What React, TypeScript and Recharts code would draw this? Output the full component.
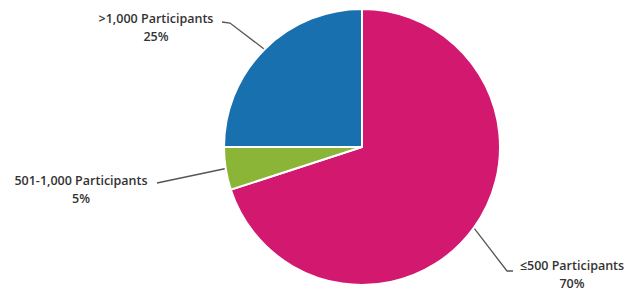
import React from "react";
import { PieChart, Pie, Cell } from "recharts";

const categories = ["≤500 Participants", "501-1,000 Participants", ">1,000 Participants"];
const shares = [70, 5, 25];
const percentLabels = ["70%", "5%", "25%"];
const colors = ["#D3186F", "#8BB537", "#1870AE"];

const data = categories.map((name, i) => ({ name, value: shares[i] }));

// label layout offsets relative to pie center
const LABEL_LAYOUT = [
  { pts: [[145, 124], [151, 124]], tx: 210, y1: 123, y2: 141 },
  { pts: [[-205, 36]], tx: -281, y1: 38, y2: 56 },
  { pts: [[-132, -124], [-140, -125]], tx: -206, y1: -124, y2: -106 },
];

const RADIAN = Math.PI / 180;

const renderLabel = (props: any) => {
  const { cx, cy, midAngle, outerRadius, index } = props;
  const lay = LABEL_LAYOUT[index];
  const sx = cx + (outerRadius + 1) * Math.cos(-midAngle * RADIAN);
  const sy = cy + (outerRadius + 1) * Math.sin(-midAngle * RADIAN);
  const pts = [[sx, sy], ...lay.pts.map(([dx, dy]) => [cx + dx, cy + dy])];
  const d = pts.map((p, i) => (i === 0 ? "M" : "L") + p[0] + "," + p[1]).join(" ");
  return (
    <g>
      <path d={d} stroke="#555" strokeWidth={1.3} fill="none" />
      <text
        x={cx + lay.tx}
        y={cy + lay.y1}
        textAnchor="middle"
        fill="#333"
        fontFamily="'Open Sans', sans-serif"
        fontWeight={600}
        fontSize={12.5}
      >
        {categories[index]}
      </text>
      <text
        x={cx + lay.tx}
        y={cy + lay.y2}
        textAnchor="middle"
        fill="#333"
        fontFamily="'Open Sans', sans-serif"
        fontWeight={600}
        fontSize={12.5}
      >
        {percentLabels[index]}
      </text>
    </g>
  );
};

export default function App() {
  return (
    <div style={{ position: "absolute", left: 0, top: 0, width: 631, height: 291, background: "#fff" }}>
      <PieChart width={631} height={291} margin={{ top: 0, right: 0, bottom: 0, left: 0 }}>
        <Pie
          data={data}
          dataKey="value"
          nameKey="name"
          cx={362}
          cy={147}
          outerRadius={138}
          startAngle={90}
          endAngle={-270}
          stroke="#fff"
          strokeWidth={2}
          isAnimationActive={false}
          label={renderLabel}
          labelLine={false}
        >
          {data.map((d, i) => (
            <Cell key={d.name} fill={colors[i]} />
          ))}
        </Pie>
      </PieChart>
    </div>
  );
}
